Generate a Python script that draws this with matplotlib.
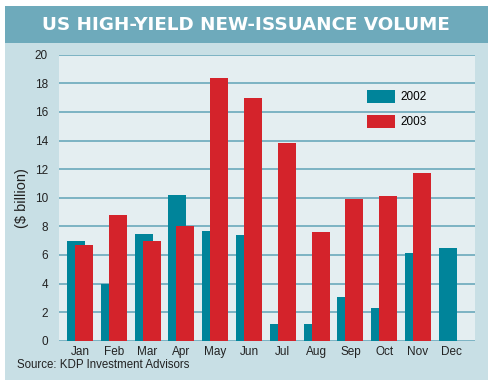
import matplotlib
matplotlib.use("Agg")
import matplotlib.pyplot as plt
from matplotlib.patches import Rectangle
import numpy as np

months = ["Jan", "Feb", "Mar", "Apr", "May", "Jun", "Jul", "Aug", "Sep", "Oct", "Nov", "Dec"]
vol_2002 = [7.0, 4.0, 7.45, 10.2, 7.7, 7.4, 1.15, 1.15, 3.05, 2.3, 6.1, 6.5]
vol_2003 = [6.7, 8.8, 6.95, 8.0, 18.4, 17.0, 13.8, 7.6, 9.9, 10.15, 11.7, None]
yticks = [0, 2, 4, 6, 8, 10, 12, 14, 16, 18, 20]

TEAL = "#00849a"
RED = "#d4232b"
PANEL = "#c8dfe5"
BAND = "#6eaabb"
PLOTBG = "#e4eef1"
GRID = "#6aa9bb"

plt.rcParams['font.family'] = ['Liberation Sans', 'DejaVu Sans']

fig = plt.figure(figsize=(4.92, 3.86), dpi=100)
fig.patch.set_facecolor("white")

W, H = 492.0, 386.0
# panel and title band (figure pixel coords)
fig.patches.append(Rectangle((5 / W, 1 - 380 / H), 483 / W, 337 / H, transform=fig.transFigure,
                             facecolor=PANEL, edgecolor="none", zorder=-10))
fig.patches.append(Rectangle((5 / W, 1 - 43 / H), 483 / W, 37 / H, transform=fig.transFigure,
                             facecolor=BAND, edgecolor="none", zorder=-10))
fig.text(246 / W, 1 - 25 / H, "US HIGH-YIELD NEW-ISSUANCE VOLUME", ha="center", va="center",
         color="white", fontsize=13.2, fontweight="bold", family=["DejaVu Sans"])

ax = fig.add_axes([59 / W, 45.3 / H, 416 / W, 286 / H])
ax.set_facecolor(PLOTBG)
ax.set_zorder(1)

x = np.arange(len(months))
w = 0.533
off = 0.118
ax.bar(x - off, vol_2002, width=w, color=TEAL, label="2002", zorder=2)
v03 = [np.nan if v is None else v for v in vol_2003]
ax.bar(x + off, v03, width=w, color=RED, label="2003", zorder=3)

ax.set_ylim(0, 20)
ax.set_xlim(-0.621, 11.686)
ax.set_yticks(yticks)
ax.set_yticklabels([str(t) for t in yticks], fontsize=8.5)
ax.set_xticks(x)
ax.set_xticklabels(months, fontsize=8.5)
ax.tick_params(length=0, colors="#222222")
ax.tick_params(axis="y", pad=8)
ax.tick_params(axis="x", pad=4)
for s in ax.spines.values():
    s.set_visible(False)
ax.yaxis.grid(True, color=GRID, linewidth=1.2, zorder=1)
ax.set_axisbelow(True)

ax.set_ylabel("($ billion)", fontsize=10.5, color="#222222", labelpad=4)

leg = ax.legend(loc="upper left", bbox_to_anchor=((367 - 59) / 416, (340.7 - 90) / 286),
                frameon=False, fontsize=8.5, handlelength=2.37, handleheight=1.27,
                labelspacing=1.0, handletextpad=0.45, borderaxespad=0, borderpad=0)

fig.text(17 / W, 1 - 365 / H, "Source: KDP Investment Advisors", ha="left", va="center",
         fontsize=8.3, color="#222222")

fig.savefig("out.png", dpi=100)
